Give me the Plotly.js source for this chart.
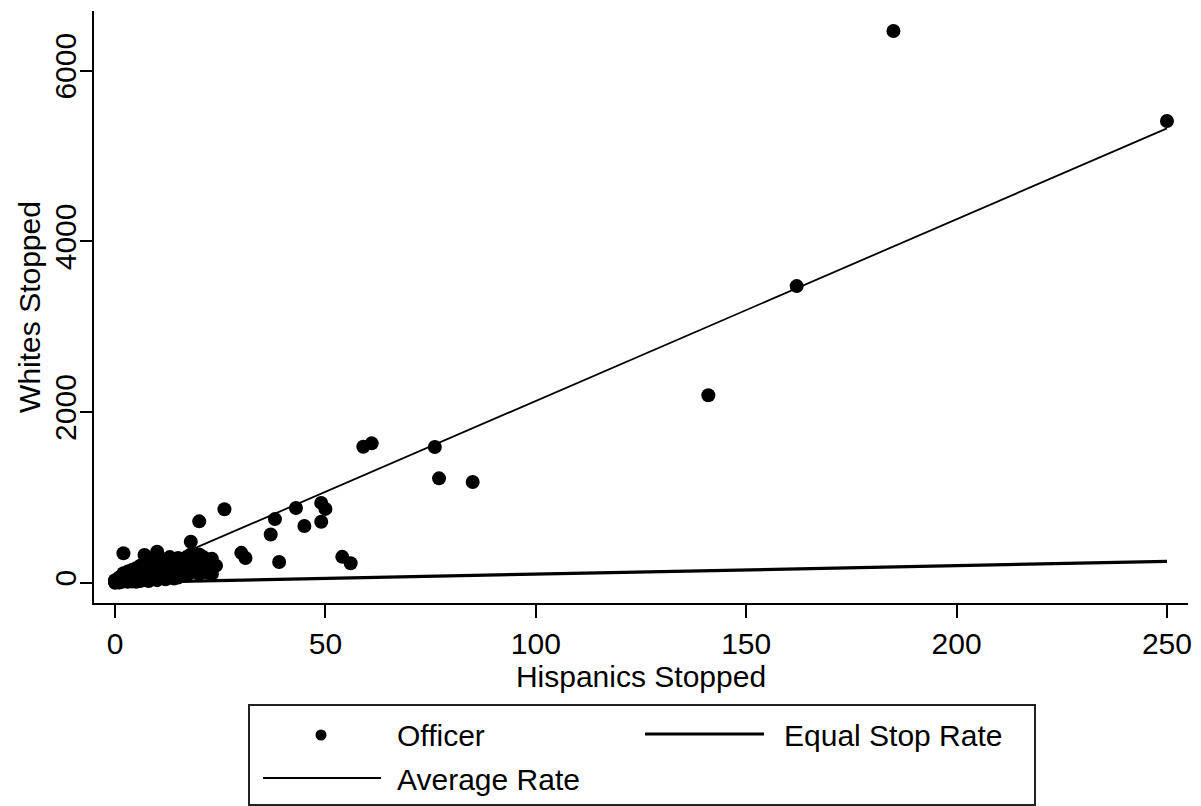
<!DOCTYPE html>
<html>
<head>
<meta charset="utf-8">
<script src="https://cdn.plot.ly/plotly-3.0.1.min.js"></script>
<style>
  html, body { margin: 0; padding: 0; background: #ffffff; }
  #chart { width: 1201px; height: 806px; }
</style>
</head>
<body>
<div id="chart"></div>
<script>
// ---- Data ----
// Officer-level stops: Hispanics stopped (x) and Whites stopped (y)
const officerHispanics = [
  0, 0, 0, 1, 1, 1, 1, 2, 2, 2, 2, 2, 3, 3, 3, 3, 4, 4, 4, 4,
  5, 5, 5, 5, 6, 6, 6, 6, 7, 7, 7, 7, 8, 8, 8, 9, 9, 9, 10, 10,
  10, 11, 11, 11, 12, 12, 13, 13, 13, 14, 14, 14, 15, 15, 15, 16, 16, 17, 17, 18,
  18, 18, 19, 19, 20, 20, 20, 21, 21, 22, 22, 23, 23, 24, 3, 6, 9, 12, 16, 1,
  5, 8, 10, 12, 15, 17, 20, 22, 2, 4, 7, 11, 14, 16, 19, 21, 23, 9, 13, 18,
  26, 30, 31, 37, 38, 39, 43, 45, 49, 49, 50, 54, 56, 59, 61, 76, 77, 85, 141, 162,
  185, 250
];
const officerWhites = [
  0, 10, 30, 5, 20, 40, 60, 15, 50, 80, 110, 345, 30, 60, 90, 130, 40, 70, 100, 150,
  50, 90, 120, 170, 60, 110, 140, 200, 70, 130, 180, 325, 90, 150, 210, 100, 160, 250, 120, 190,
  363, 110, 200, 280, 140, 230, 90, 170, 260, 50, 150, 220, 130, 200, 290, 170, 250, 190, 300, 480,
  210, 120, 260, 150, 719, 330, 220, 200, 300, 250, 160, 100, 280, 200, 10, 20, 40, 60, 80, 2,
  10, 20, 30, 40, 60, 80, 100, 120, 25, 15, 35, 60, 90, 110, 180, 140, 220, 210, 300, 330,
  860, 350, 290, 565, 745, 243, 875, 664, 935, 715, 865, 303, 227, 1594, 1633, 1590, 1223, 1180, 2196, 3476,
  6465, 5410
];
// Reference lines
const equalRateX = [0, 250];
const equalRateY = [0, 250];
const avgRateX = [0, 250];
const avgRateY = [0, 5325];

// Axis ticks
const xTicks = [0, 50, 100, 150, 200, 250];
const yTicks = [0, 2000, 4000, 6000];

// Legend labels
const legendLabels = ["Officer", "Equal Stop Rate", "Average Rate"];

// ---- Layout helpers ----
const W = 1201, H = 806;
const M = { l: 94, r: 13, t: 11, b: 203 };
const PW = W - M.l - M.r, PH = H - M.t - M.b;
const px2x = (px) => (px - M.l) / PW;
const px2y = (py) => (H - M.b - py) / PH;
const FONT = "Liberation Sans, Arial, Helvetica, sans-serif";

const traces = [
  {
    type: "scatter", mode: "markers", name: legendLabels[0],
    x: officerHispanics, y: officerWhites,
    marker: { color: "#000000", size: 14 },
    showlegend: false, hoverinfo: "x+y"
  },
  {
    type: "scatter", mode: "lines", name: legendLabels[1],
    x: equalRateX, y: equalRateY,
    line: { color: "#000000", width: 3.2 },
    showlegend: false
  },
  {
    type: "scatter", mode: "lines", name: legendLabels[2],
    x: avgRateX, y: avgRateY,
    line: { color: "#000000", width: 1.8 },
    showlegend: false
  }
];

const shapes = [
  // legend frame
  { type: "rect", xref: "paper", yref: "paper",
    x0: px2x(249), x1: px2x(1035), y0: px2y(805), y1: px2y(705),
    line: { color: "#222222", width: 2 }, fillcolor: "rgba(0,0,0,0)" },
  // legend symbols
  { type: "circle", xref: "paper", yref: "paper",
    x0: px2x(315.5), x1: px2x(326.5), y0: px2y(740.5), y1: px2y(729.5),
    line: { color: "#000000", width: 0 }, fillcolor: "#000000" },
  { type: "line", xref: "paper", yref: "paper",
    x0: px2x(645), x1: px2x(764), y0: px2y(734), y1: px2y(734),
    line: { color: "#000000", width: 3.2 } },
  { type: "line", xref: "paper", yref: "paper",
    x0: px2x(263), x1: px2x(381), y0: px2y(778), y1: px2y(778),
    line: { color: "#000000", width: 1.8 } }
];

const annotations = [
  { text: legendLabels[0], xref: "paper", yref: "paper", x: px2x(395), y: px2y(735),
    xanchor: "left", yanchor: "middle", showarrow: false, font: { family: FONT, size: 30, color: "#000" } },
  { text: legendLabels[1], xref: "paper", yref: "paper", x: px2x(782), y: px2y(735),
    xanchor: "left", yanchor: "middle", showarrow: false, font: { family: FONT, size: 30, color: "#000" } },
  { text: legendLabels[2], xref: "paper", yref: "paper", x: px2x(395), y: px2y(779),
    xanchor: "left", yanchor: "middle", showarrow: false, font: { family: FONT, size: 30, color: "#000" } }
];

const layout = {
  width: W, height: H,
  margin: M,
  paper_bgcolor: "#ffffff", plot_bgcolor: "#ffffff",
  font: { family: FONT, size: 30, color: "#000000" },
  showlegend: false,
  xaxis: {
    range: [-5, 255], tickvals: xTicks, ticktext: xTicks.map(String),
    ticks: "outside", ticklen: 13, tickwidth: 2, tickcolor: "#000",
    showline: true, linecolor: "#000", linewidth: 2, mirror: false,
    showgrid: false, zeroline: false,
    tickfont: { family: FONT, size: 30, color: "#000" },
    title: { text: "Hispanics Stopped", font: { family: FONT, size: 30, color: "#000" }, standoff: 0 }
  },
  yaxis: {
    range: [-238, 6700], tickvals: yTicks, ticktext: yTicks.map(String),
    tickangle: -90,
    ticks: "outside", ticklen: 12, tickwidth: 2, tickcolor: "#000",
    ticklabelstandoff: -8,
    showline: true, linecolor: "#000", linewidth: 2, mirror: false,
    showgrid: false, zeroline: false,
    tickfont: { family: FONT, size: 30, color: "#000" },
    title: { text: "Whites Stopped", font: { family: FONT, size: 30, color: "#000" }, standoff: 0 }
  },
  shapes: shapes,
  annotations: annotations
};

Plotly.newPlot("chart", traces, layout, { displayModeBar: false, staticPlot: true });
</script>
</body>
</html>
